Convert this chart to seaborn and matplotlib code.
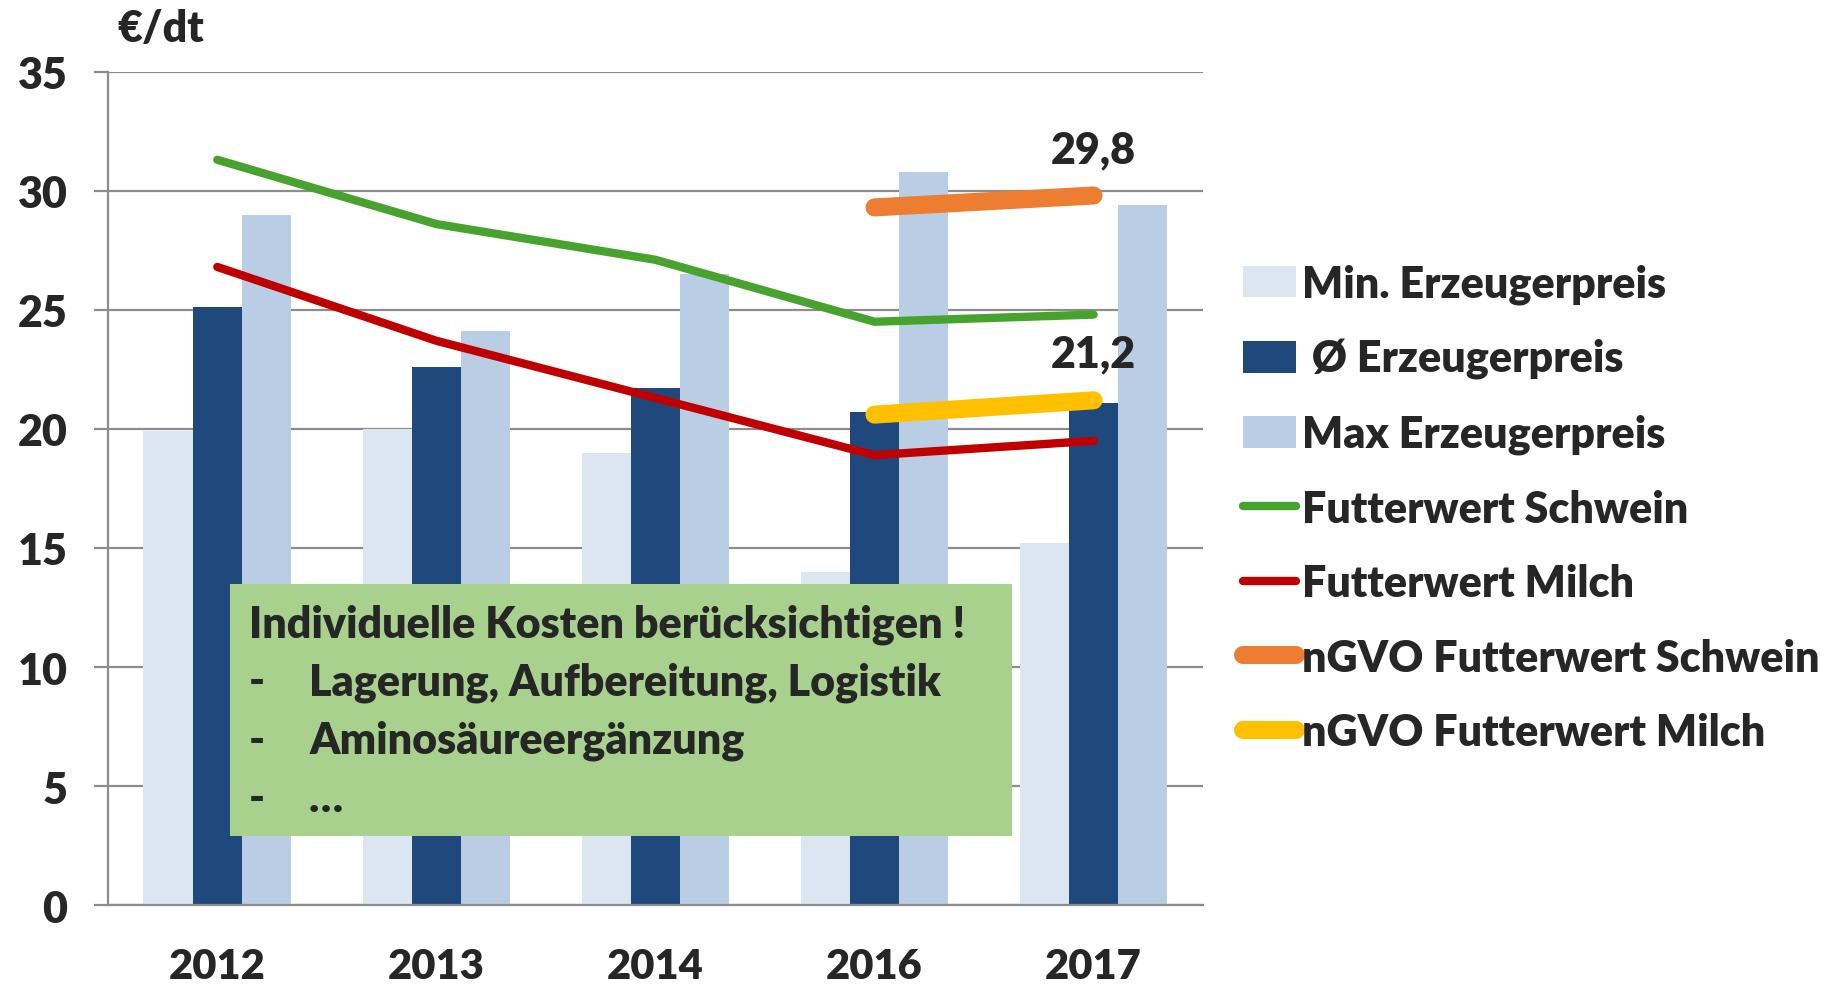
import numpy as np
import pandas as pd
import seaborn as sns
import matplotlib.pyplot as plt
from matplotlib.patches import Patch, Rectangle
from matplotlib.lines import Line2D

# Daten
jahre = ['2012', '2013', '2014', '2016', '2017']
min_preis = [19.9, 20.0, 19.0, 14.0, 15.2]
mittel_preis = [25.1, 22.6, 21.7, 20.7, 21.1]
max_preis = [29.0, 24.1, 26.5, 30.8, 29.4]
futter_schwein = [31.3, 28.6, 27.1, 24.5, 24.8]
futter_milch = [26.8, 23.7, 21.3, 18.9, 19.5]
ngvo_jahre = ['2016', '2017']
ngvo_schwein = [29.3, 29.8]
ngvo_milch = [20.6, 21.2]

serien = ['Min. Erzeugerpreis', ' Ø Erzeugerpreis', 'Max Erzeugerpreis']
farben = ['#DCE6F2', '#1F497D', '#B9CDE5']
linien_namen = ['Futterwert Schwein', 'Futterwert Milch',
                'nGVO Futterwert Schwein', 'nGVO Futterwert Milch']
linien_farben = ['#48A22E', '#C00000', '#ED7D31', '#FFC000']

hinweis = ['Individuelle Kosten berücksichtigen !',
           'Lagerung, Aufbereitung, Logistik',
           'Aminosäureergänzung',
           '…']

df = pd.DataFrame({
    'Jahr': jahre * 3,
    'Serie': np.repeat(serien, len(jahre)),
    'Wert': min_preis + mittel_preis + max_preis,
})

sns.set_theme(style='white')
plt.rcParams['font.family'] = ['Lato', 'DejaVu Sans']
GEW = 'heavy'

fig = plt.figure(figsize=(18.36, 9.87), dpi=100)
ax = fig.add_axes([0.0587, 0.0818, 0.5966, 0.8446])

sns.barplot(data=df, x='Jahr', y='Wert', hue='Serie', hue_order=serien,
            palette=farben, width=0.674, saturation=1, errorbar=None,
            linewidth=0, legend=False, ax=ax, zorder=2)

x = np.arange(len(jahre))
ax.plot(x, futter_schwein, color=linien_farben[0], lw=6, zorder=4)
ax.plot(x, futter_milch, color=linien_farben[1], lw=6, zorder=4)
xn = [jahre.index(j) for j in ngvo_jahre]
ax.plot(xn, ngvo_schwein, color=linien_farben[2], lw=13,
        solid_capstyle='round', zorder=4)
ax.plot(xn, ngvo_milch, color=linien_farben[3], lw=13,
        solid_capstyle='round', zorder=4)

for werte in [ngvo_schwein, ngvo_milch]:
    ax.text(xn[-1], werte[-1] + 1.95, f'{werte[-1]:.1f}'.replace('.', ','),
            ha='center', va='center', fontsize=31, fontweight=GEW)

# Achsen
ax.set_xlim(-0.5, len(jahre) - 0.5)
ax.set_ylim(0, 35)
ax.set_yticks(range(0, 36, 5))
ax.set_xlabel('')
ax.set_ylabel('')
ax.yaxis.grid(True, color='#8C8C8C', lw=1.6, zorder=0)
ax.set_axisbelow(True)
for s in ['top', 'right']:
    ax.spines[s].set_visible(False)
for s in ['left', 'bottom']:
    ax.spines[s].set_color('#8C8C8C')
    ax.spines[s].set_linewidth(1.6)
ax.set_xticks(np.arange(-0.5, len(jahre)), minor=True)
ax.tick_params(axis='x', which='minor', length=10, width=1.6,
               color='#8C8C8C', direction='out')
ax.tick_params(axis='x', which='major', length=0, pad=30, labelsize=30)
ax.tick_params(axis='y', length=10, width=1.6, color='#8C8C8C',
               direction='out', pad=19, labelsize=31, left=True)
for lab in ax.get_xticklabels() + ax.get_yticklabels():
    lab.set_fontweight(GEW)

fig.text(117 / 1836, 1 - 29 / 987, '€/dt', ha='left', va='center',
         fontsize=31, fontweight=GEW)

# Hinweisbox
ax.add_patch(Rectangle((0.056, 2.91), 3.571, 10.56, facecolor='#A9D18E',
                       edgecolor='none', zorder=6))
zeilen_y = [11.8, 9.4, 6.95, 4.5]
ax.text(0.145, zeilen_y[0], hinweis[0], ha='left', va='center',
        fontsize=31, fontweight=GEW, zorder=7)
for y, t in zip(zeilen_y[1:], hinweis[1:]):
    ax.text(0.145, y, '-', ha='left', va='center', fontsize=31,
            fontweight=GEW, zorder=7)
    ax.text(0.419, y, t, ha='left', va='center', fontsize=31,
            fontweight=GEW, zorder=7)

# Legende
handles = [Patch(facecolor=c, edgecolor='none') for c in farben]
handles += [Line2D([], [], color=linien_farben[0], lw=6),
            Line2D([], [], color=linien_farben[1], lw=6),
            Line2D([], [], color=linien_farben[2], lw=13, solid_capstyle='round'),
            Line2D([], [], color=linien_farben[3], lw=13, solid_capstyle='round')]
labels = serien + linien_namen
fig.legend(handles, labels, loc='center left', bbox_to_anchor=(0.677, 0.4845),
           frameon=False, prop={'size': 31, 'weight': GEW},
           handlelength=1.23, handleheight=0.75,
           handletextpad=0.15, labelspacing=0.8, borderpad=0, borderaxespad=0)

fig.savefig('out.png', dpi=100)
